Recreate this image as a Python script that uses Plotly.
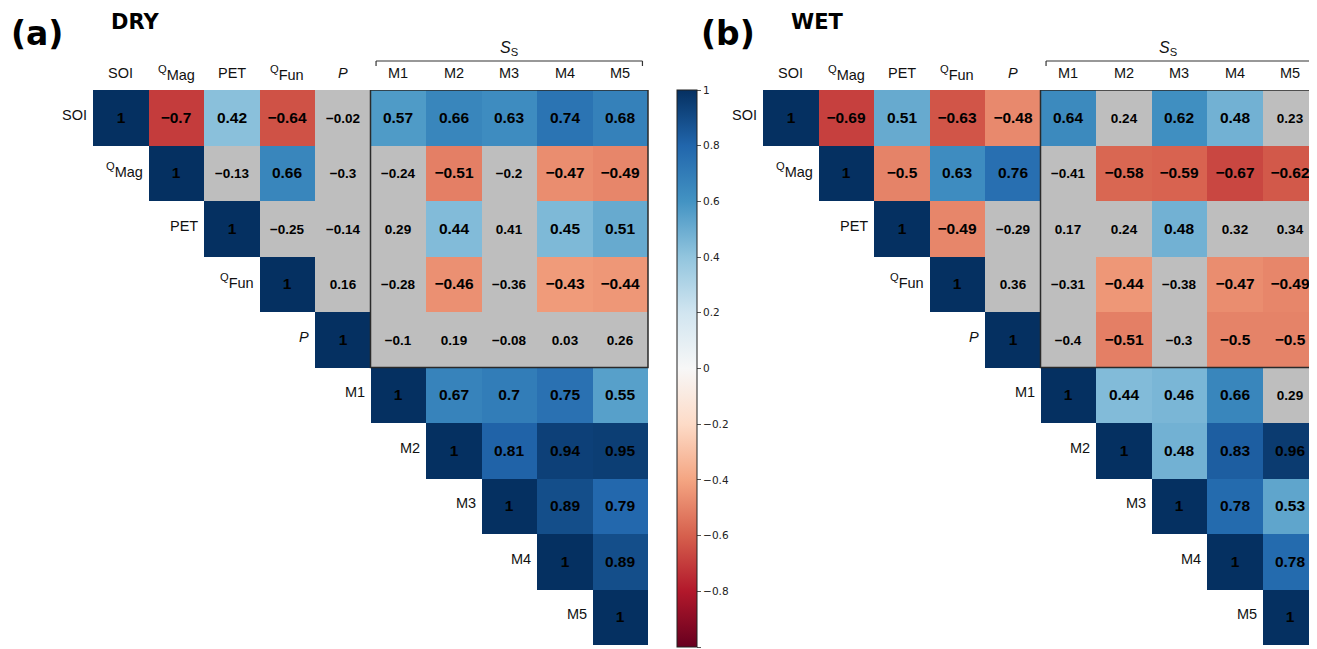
import plotly.graph_objects as go

# ---------------- data ----------------
labels = ["SOI", "Q|Mag", "PET", "Q|Fun", "P", "M1", "M2", "M3", "M4", "M5"]

dry_rows = [
    [1, -0.7, 0.42, -0.64, -0.02, 0.57, 0.66, 0.63, 0.74, 0.68],
    [1, -0.13, 0.66, -0.3, -0.24, -0.51, -0.2, -0.47, -0.49],
    [1, -0.25, -0.14, 0.29, 0.44, 0.41, 0.45, 0.51],
    [1, 0.16, -0.28, -0.46, -0.36, -0.43, -0.44],
    [1, -0.1, 0.19, -0.08, 0.03, 0.26],
    [1, 0.67, 0.7, 0.75, 0.55],
    [1, 0.81, 0.94, 0.95],
    [1, 0.89, 0.79],
    [1, 0.89],
    [1],
]
dry_sig = [
    [1, 1, 1, 1, 0, 1, 1, 1, 1, 1],
    [1, 0, 1, 0, 0, 1, 0, 1, 1],
    [1, 0, 0, 0, 1, 0, 1, 1],
    [1, 0, 0, 1, 0, 1, 1],
    [1, 0, 0, 0, 0, 0],
    [1, 1, 1, 1, 1],
    [1, 1, 1, 1],
    [1, 1, 1],
    [1, 1],
    [1],
]
wet_rows = [
    [1, -0.69, 0.51, -0.63, -0.48, 0.64, 0.24, 0.62, 0.48, 0.23],
    [1, -0.5, 0.63, 0.76, -0.41, -0.58, -0.59, -0.67, -0.62],
    [1, -0.49, -0.29, 0.17, 0.24, 0.48, 0.32, 0.34],
    [1, 0.36, -0.31, -0.44, -0.38, -0.47, -0.49],
    [1, -0.4, -0.51, -0.3, -0.5, -0.5],
    [1, 0.44, 0.46, 0.66, 0.29],
    [1, 0.48, 0.83, 0.96],
    [1, 0.78, 0.53],
    [1, 0.78],
    [1],
]
wet_sig = [
    [1, 1, 1, 1, 1, 1, 0, 1, 1, 0],
    [1, 1, 1, 1, 0, 1, 1, 1, 1],
    [1, 1, 0, 0, 0, 1, 0, 0],
    [1, 0, 0, 1, 0, 1, 1],
    [1, 0, 1, 0, 1, 1],
    [1, 1, 1, 1, 0],
    [1, 1, 1, 1],
    [1, 1, 1],
    [1, 1],
    [1],
]
cbar_ticks = [1, 0.8, 0.6, 0.4, 0.2, 0, -0.2, -0.4, -0.6, -0.8, -1]

rdbu = ['rgb(103,0,31)', 'rgb(178,24,43)', 'rgb(214,96,77)', 'rgb(244,165,130)',
        'rgb(253,219,199)', 'rgb(247,247,247)', 'rgb(209,229,240)', 'rgb(146,197,222)',
        'rgb(67,147,195)', 'rgb(33,102,172)', 'rgb(5,48,97)']
colorscale = [[i / 10, c] for i, c in enumerate(rdbu)]
GREY = "#bebebe"

# the page places the figure 8px from the top-left corner
OFF = 8
SW, SH = 1317, 649
W, H = SW - OFF, SH - OFF
LABEL_FONT = "Liberation Sans, Arial, sans-serif"
LABEL_SIZE = 14.5


def px(x):
    return (x - OFF) / W


def py(y):
    return 1 - (y - OFF) / H


def fmt(v):
    return ("%g" % v).replace("-", "\u2212")


def label_html(lab):
    if "|" in lab:
        a, b = lab.split("|")
        return '<sup>%s</sup><span style="font-size:%spx">%s</span>' % (a, LABEL_SIZE, b)
    if lab == "P":
        return "<i>P</i>"
    return lab


def label_size(lab):
    return 16 if "|" in lab else LABEL_SIZE


def build(rows, sig):
    n = len(labels)
    zc = [[None] * n for _ in range(n)]
    tc = [[""] * n for _ in range(n)]
    zg = [[None] * n for _ in range(n)]
    tg = [[""] * n for _ in range(n)]
    for i, (r, s) in enumerate(zip(rows, sig)):
        for k, (v, f) in enumerate(zip(r, s)):
            j = i + k
            if f:
                zc[i][j] = v
                tc[i][j] = fmt(v)
            else:
                zg[i][j] = 0
                tg[i][j] = fmt(v)
    return zc, tc, zg, tg


fig = go.Figure()

panels = [
    dict(rows=dry_rows, sig=dry_sig, x0=93, x1=649, ax="", tag="(a)", title="DRY",
         tagx=9, titlex=109, showscale=True),
    dict(rows=wet_rows, sig=wet_sig, x0=763, x1=1317, ax="2", tag="(b)", title="WET",
         tagx=699, titlex=789, showscale=False),
]
y_top, y_bot = 90, 645
n = len(labels)

annotations = []
shapes = []

for p in panels:
    zc, tc, zg, tg = build(p["rows"], p["sig"])
    xa = "x" + p["ax"]
    ya = "y" + p["ax"]
    fig.add_trace(go.Heatmap(
        z=zg, text=tg, texttemplate="%{text}", colorscale=[[0, GREY], [1, GREY]],
        showscale=False, zmin=0, zmax=1, hoverinfo="skip",
        textfont=dict(family=LABEL_FONT, size=13.5, color="black", weight="bold"),
        xaxis=xa, yaxis=ya))
    cb = None
    if p["showscale"]:
        cb = dict(x=px(677), xanchor="left", xpad=0, ypad=0,
                  y=py((y_top + y_bot + 2) / 2), yanchor="middle",
                  len=(y_bot - y_top + 2), lenmode="pixels", thickness=20,
                  outlinewidth=1, outlinecolor="#222",
                  tickvals=cbar_ticks, ticktext=[fmt(t) for t in cbar_ticks],
                  ticks="outside", ticklen=4, tickcolor="#555",
                  tickfont=dict(family="DejaVu Sans", size=10.5, color="#222"))
    fig.add_trace(go.Heatmap(
        z=zc, text=tc, texttemplate="%{text}", colorscale=colorscale,
        zmin=-1, zmax=1, showscale=p["showscale"], colorbar=cb, hoverinfo="skip",
        textfont=dict(family=LABEL_FONT, size=15.5, color="black", weight="bold"),
        xaxis=xa, yaxis=ya))

    x1 = min(SW, p["x1"])
    xdom = [px(p["x0"]), min(1.0, px(x1))]
    ydom = [py(y_bot), py(y_top)]
    cell = (y_bot - y_top) / n
    xr_hi = -0.5 + (x1 - p["x0"]) / cell
    fig.update_layout(**{
        "xaxis" + p["ax"]: dict(domain=xdom, range=[-0.5, xr_hi], visible=False,
                                anchor=ya, fixedrange=True),
        "yaxis" + p["ax"]: dict(domain=ydom, range=[9.5, -0.5], visible=False,
                                anchor=xa, fixedrange=True),
    })

    # column labels
    for j, lab in enumerate(labels):
        annotations.append(dict(x=j, y=-0.5, xref=xa, yref=ya, text=label_html(lab),
                                showarrow=False, yanchor="bottom",
                                yshift=7 if "|" not in lab else 5,
                                font=dict(family=LABEL_FONT, size=label_size(lab),
                                          color="#111")))
    # row labels along diagonal
    for i, lab in enumerate(labels):
        annotations.append(dict(x=i - 0.5, y=i, xref=xa, yref=ya, text=label_html(lab),
                                showarrow=False, xanchor="right", yanchor="middle",
                                xshift=-4, yshift=3,
                                font=dict(family=LABEL_FONT, size=label_size(lab),
                                          color="#111")))
    # boxed block
    shapes.append(dict(type="rect", xref=xa, yref=ya, x0=4.5, x1=9.5, y0=-0.5, y1=4.5,
                       line=dict(color="#2a2a2a", width=1.5), fillcolor="rgba(0,0,0,0)"))
    # bracket above M1..M5
    bx0 = px(p["x0"] + 5.1 * cell)
    bx1 = min(1.0, px(p["x0"] + 9.9 * cell))
    by = py(y_top - 29)
    byt = py(y_top - 24)
    for seg in [(bx0, bx1, by, by), (bx0, bx0, by, byt), (bx1, bx1, by, byt)]:
        shapes.append(dict(type="line", xref="paper", yref="paper",
                           x0=seg[0], x1=seg[1], y0=seg[2], y1=seg[3],
                           line=dict(color="#333", width=1.2)))
    annotations.append(dict(x=px(p["x0"] + 7.5 * cell), y=by, xref="paper", yref="paper",
                            text="<i>S</i><sub>S</sub>", showarrow=False, yanchor="bottom",
                            yshift=1, font=dict(family=LABEL_FONT, size=16, color="#111")))
    # panel tag and title
    annotations.append(dict(x=px(p["tagx"]), y=py(33), xref="paper", yref="paper",
                            text="<b>%s</b>" % p["tag"], showarrow=False, xanchor="left",
                            yanchor="middle",
                            font=dict(family="DejaVu Sans", size=33, color="black")))
    annotations.append(dict(x=px(p["titlex"]), y=py(22), xref="paper", yref="paper",
                            text="<b>%s</b>" % p["title"], showarrow=False, xanchor="left",
                            yanchor="middle",
                            font=dict(family="DejaVu Sans", size=21, color="black")))

fig.update_layout(width=W, height=H, margin=dict(l=0, r=0, t=0, b=0),
                  paper_bgcolor="white", plot_bgcolor="white",
                  annotations=annotations, shapes=shapes, showlegend=False)

fig.write_html("out.html")
